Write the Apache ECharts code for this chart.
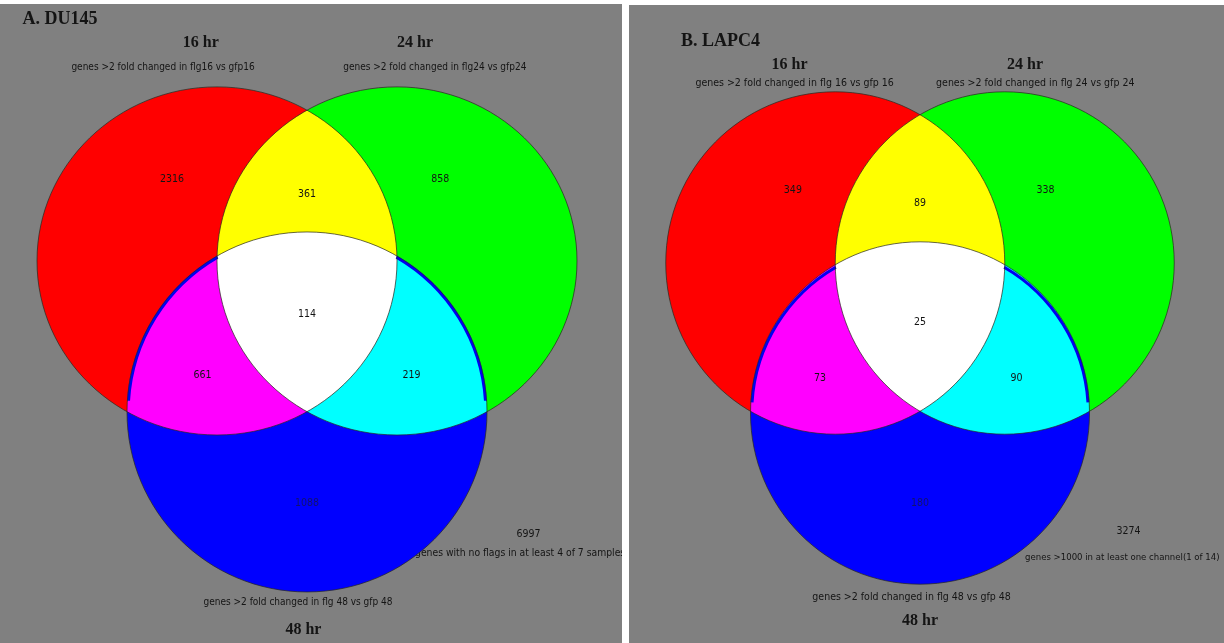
<!DOCTYPE html>
<html><head><meta charset="utf-8">
<script src="https://cdn.jsdelivr.net/npm/echarts@6/dist/echarts.min.js"></script>
<style>html,body{margin:0;padding:0;background:#fff}#c{width:1224px;height:643px}</style>
</head><body><div id="c"></div>
<script>
// ---------- data ----------
const panelTitles = ['A. DU145', 'B. LAPC4'];
const timeLabels = ['16 hr', '24 hr', '48 hr'];
const setLabelsA = ['genes >2 fold changed in flg16 vs gfp16', 'genes >2 fold changed in flg24 vs gfp24', 'genes >2 fold changed in flg 48 vs gfp 48'];
const setLabelsB = ['genes >2 fold changed in flg 16 vs gfp 16', 'genes >2 fold changed in flg 24 vs gfp 24', 'genes >2 fold changed in flg 48 vs gfp 48'];
const regionNames = ['16 hr only', '16 hr & 24 hr', '24 hr only', '16 hr & 24 hr & 48 hr', '16 hr & 48 hr', '24 hr & 48 hr', '48 hr only'];
const countsA = [2316, 361, 858, 114, 661, 219, 1088];
const countsB = [349, 89, 338, 25, 73, 90, 180];
const universeCountA = 6997;
const universeLabelA = 'genes with no flags in at least 4 of 7 samples';
const universeCountB = 3274;
const universeLabelB = 'genes >1000 in at least one channel(1 of 14)';

// ---------- layout (in 48 hr circle-radius units) ----------
const circleColors = ['#ff0000', '#00ff00', '#0000ff'];
const panels = [
  { grid: { left: 37, top: 75, width: 540, height: 540 },
    centers: [[-0.5, -0.033], [0.5, -0.033], [0, -0.872]],
    radii: [[1, 0.967], [1, 0.967], [1, 1]],
    counts: countsA, setLabels: setLabelsA, uCount: universeCountA, uLabel: universeLabelA,
    setFont: 10, uFont: 10.3, numFont: 10.5,
    regionPos: [[-0.75, 0.42], [0, 0.34], [0.74, 0.42], [0, -0.33], [-0.58, -0.67], [0.58, -0.67], [0, -1.38]],
    titlePos: [-1.58, 1.31], timePos: [[-0.59, 1.18], [0.6, 1.18], [-0.02, -2.08]],
    setPos: [[-0.8, 1.04], [0.71, 1.04], [-0.05, -1.93]], uCountPos: [1.23, -1.55], uLabelPos: [0.6, -1.66] },
  { grid: { left: 665.75, top: 93.5, width: 508.5, height: 508.5 },
    centers: [[-0.5, 0], [0.5, 0], [0, -0.885]],
    radii: [[1, 1.01], [1, 1.01], [1, 1.01]],
    counts: countsB, setLabels: setLabelsB, uCount: universeCountB, uLabel: universeLabelB,
    setFont: 10.5, uFont: 9.5, numFont: 10.5,
    regionPos: [[-0.75, 0.43], [0, 0.35], [0.74, 0.43], [0, -0.35], [-0.59, -0.68], [0.57, -0.68], [0, -1.42]],
    titlePos: [-1.41, 1.31], timePos: [[-0.77, 1.17], [0.62, 1.17], [0, -2.11]],
    setPos: [[-0.74, 1.06], [0.68, 1.06], [-0.05, -1.97]], uCountPos: [1.23, -1.58], uLabelPos: [0.62, -1.74] }
];

const SANS = '"Liberation Sans Narrow", "DejaVu Sans Condensed", sans-serif';
const SERIF = '"Liberation Serif", "DejaVu Serif", serif';
const INK = '#141414';

const grids = [], xAxes = [], yAxes = [], series = [];
panels.forEach((p, k) => {
  grids.push(Object.assign({ containLabel: false }, p.grid));
  xAxes.push({ gridIndex: k, type: 'value', min: -1.5, max: 1.5, show: false });
  yAxes.push({ gridIndex: k, type: 'value', min: -2, max: 1, show: false });
  const common = { type: 'custom', xAxisIndex: k, yAxisIndex: k, silent: true, clip: false };

  // texts outside the circles (drawn beneath them)
  const textItems = [];
  textItems.push({ value: p.titlePos, text: panelTitles[k], font: 'bold 18px ' + SERIF, align: 'left' });
  timeLabels.forEach((t, i) => textItems.push({ value: p.timePos[i], text: t, font: 'bold 16px ' + SERIF, align: 'center' }));
  p.setLabels.forEach((t, i) => textItems.push({ value: p.setPos[i], text: t, font: p.setFont + 'px ' + SANS, align: 'center' }));
  textItems.push({ value: p.uCountPos, text: String(p.uCount), font: p.numFont + 'px ' + SANS, align: 'center' });
  textItems.push({ value: p.uLabelPos, text: p.uLabel, font: p.uFont + 'px ' + SANS, align: 'left' });
  series.push(Object.assign({}, common, {
    z: 1, data: textItems,
    renderItem: (params, api) => {
      const d = textItems[params.dataIndex];
      const pt = api.coord([api.value(0), api.value(1)]);
      return { type: 'text', x: pt[0], y: pt[1],
        style: { text: d.text, font: d.font, fill: INK, align: d.align, verticalAlign: 'middle' } };
    }
  }));

  const circleData = p.centers.map((c, i) => [c[0], c[1], i]);
  const ellShape = (api) => {
    const i = api.value(2);
    const c = api.coord([api.value(0), api.value(1)]);
    const u = api.size([1, 1]);
    return { cx: c[0], cy: c[1], rx: u[0] * p.radii[i][0], ry: u[1] * p.radii[i][1] };
  };
  // black base so that additive colours mix to pure secondaries
  series.push(Object.assign({}, common, { z: 2, data: circleData,
    renderItem: (params, api) => ({ type: 'ellipse', shape: ellShape(api), style: { fill: '#000' } }) }));
  // additive coloured sets
  series.push(Object.assign({}, common, { z: 3, blendMode: 'lighter', data: circleData,
    renderItem: (params, api) => ({ type: 'ellipse', shape: ellShape(api), style: { fill: circleColors[api.value(2)] } }) }));
  // blue rim on the 48 hr circle where it crosses single sets
  series.push(Object.assign({}, common, { z: 4, data: [circleData[2]],
    renderItem: (params, api) => {
      const s = ellShape(api);
      const mk = (a0, a1) => ({ type: 'arc', shape: { cx: s.cx, cy: s.cy, r: s.rx - 1.2, startAngle: a0, endAngle: a1, clockwise: true },
        style: { fill: 'none', stroke: '#0000f0', lineWidth: 3 } });
      return { type: 'group', children: [mk(Math.PI * 1.02, Math.PI * 4 / 3), mk(Math.PI * 5 / 3, Math.PI * 1.98)] };
    } }));
  // outlines
  series.push(Object.assign({}, common, { z: 5, data: circleData,
    renderItem: (params, api) => ({ type: 'ellipse', shape: ellShape(api), style: { fill: 'none', stroke: 'rgba(40,40,30,0.7)', lineWidth: 1 } }) }));

  // region counts
  series.push(Object.assign({}, common, {
    z: 6,
    data: p.counts.map((v, i) => ({ name: regionNames[i], value: [p.regionPos[i][0], p.regionPos[i][1], v] })),
    renderItem: (params, api) => {
      const pt = api.coord([api.value(0), api.value(1)]);
      const isBlue = params.dataIndex === 6;
      return { type: 'text', x: pt[0], y: pt[1],
        style: { text: String(api.value(2)), font: p.numFont + 'px ' + SANS, fill: isBlue ? '#12126e' : INK, align: 'center', verticalAlign: 'middle' } };
    }
  }));
});

const chart = echarts.init(document.getElementById('c'), null, { renderer: 'canvas' });
chart.setOption({
  animation: false,
  backgroundColor: '#ffffff',
  grid: grids, xAxis: xAxes, yAxis: yAxes,
  graphic: [
    { type: 'rect', z: -10, shape: { x: 0, y: 4, width: 622, height: 639 }, style: { fill: '#808080' } },
    { type: 'rect', z: -10, shape: { x: 629, y: 5, width: 595, height: 638 }, style: { fill: '#808080' } },
    { type: 'rect', z: 100, shape: { x: 622, y: 0, width: 7, height: 643 }, style: { fill: '#ffffff' } }
  ],
  series: series
});
</script>
</body></html>
